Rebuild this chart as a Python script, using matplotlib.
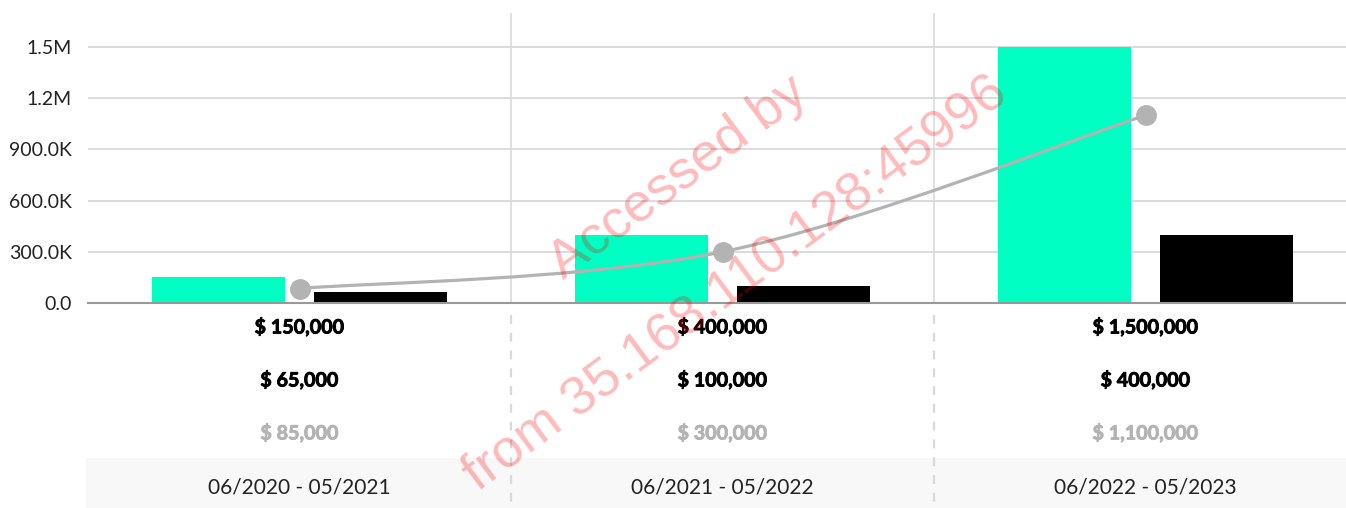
import matplotlib.pyplot as plt
import numpy as np
from matplotlib.path import Path
from matplotlib.patches import PathPatch, Rectangle
import matplotlib.transforms as mtransforms
import matplotlib.patheffects as pe

plt.rcParams['font.family'] = ['Lato', 'DejaVu Sans']

# data
periods = ["06/2020 - 05/2021", "06/2021 - 05/2022", "06/2022 - 05/2023"]
revenue = [150000, 400000, 1500000]
costs = [65000, 100000, 400000]
profit = [85000, 300000, 1100000]
yticks = [0, 300000, 600000, 900000, 1200000, 1500000]
ytick_labels = ["0.0", "300.0K", "600.0K", "900.0K", "1.2M", "1.5M"]

GREEN = "#00ffc2"
GREY = "#b3b3b3"
W, H = 1346, 508

fig = plt.figure(figsize=(W / 100, H / 100), dpi=100)
ax = fig.add_axes([88 / W, (H - 303) / H, 1 - 88 / W, 290 / H])

x = np.arange(len(periods))
bw = 0.314
off = 0.191
ax.bar(x - off, revenue, bw, color=GREEN, zorder=2)
ax.bar(x + off, costs, bw, color="black", zorder=2)

# smooth line through the profit points (catmull-rom -> bezier)
pts = np.column_stack([x, profit]).astype(float)
verts = [tuple(pts[0])]
codes = [Path.MOVETO]
n = len(pts)
for i in range(n - 1):
    p0 = pts[max(i - 1, 0)]
    p1 = pts[i]
    p2 = pts[i + 1]
    p3 = pts[min(i + 2, n - 1)]
    c1 = p1 + (p2 - p0) / 6
    c2 = p2 - (p3 - p1) / 6
    verts += [tuple(c1), tuple(c2), tuple(p2)]
    codes += [Path.CURVE4] * 3
ax.add_patch(PathPatch(Path(verts, codes), facecolor="none", edgecolor=GREY,
                       lw=2.3, zorder=3))
ax.plot(x, profit, "o", color=GREY, ms=14, zorder=4)

ax.set_xlim(-0.5, -0.5 + (W - 88) / 423)
ax.set_ylim(0, 1700000)
ax.set_yticks(yticks)
ax.set_yticklabels(ytick_labels)
ax.set_xticks([])
ax.tick_params(axis="y", length=0, pad=11.5, labelsize=14, labelcolor="#222222")
ax.grid(axis="y", color="#d9d9d9", lw=1.3, zorder=0)
for xv in [0.5, 1.5]:
    ax.axvline(xv, color="#dddddd", lw=1.3, zorder=0)
for s in ["top", "right", "left"]:
    ax.spines[s].set_visible(False)
ax.spines["bottom"].set_color("#999999")
ax.spines["bottom"].set_linewidth(1.5)

# table below the chart
tr = mtransforms.blended_transform_factory(ax.transData, fig.transFigure)
x0 = ax.get_xlim()[0] - 2 / 423
ax.add_patch(Rectangle((x0, 0), ax.get_xlim()[1] - x0, 50 / H, transform=tr,
                       facecolor="#f8f8f8", edgecolor="none", zorder=0, clip_on=False))
rows = [(revenue, "black", 327), (costs, "black", 380), (profit, GREY, 433)]
for vals, col, ypix in rows:
    for i in range(len(periods)):
        ax.text(x[i], (H - ypix) / H, f"$ {vals[i]:,}", transform=tr, ha="center", va="center",
                fontsize=14.2, fontweight="bold", color=col, clip_on=False,
                path_effects=[pe.withStroke(linewidth=0.6, foreground=col)])
for i in range(len(periods)):
    ax.text(x[i], (H - 488) / H, periods[i], transform=tr, ha="center", va="center",
            fontsize=15, color="#222222", clip_on=False, zorder=5)
for xv in [0.5, 1.5]:
    ax.plot([xv, xv], [(H - 315) / H, 0], transform=tr, color="#d9d9d9", lw=1.6,
            ls=(0, (4, 4)), clip_on=False, zorder=5)

# watermark
fig.text(678 / W, (H - 178) / H, "Accessed by", rotation=36.5, fontsize=39,
         family="Liberation Sans", color=(1, 0, 0, 0.27), ha="center", va="center")
fig.text(735 / W, (H - 284) / H, "from 35.168.110.128:45996", rotation=36.5, fontsize=39,
         family="Liberation Sans", color=(1, 0, 0, 0.27), ha="center", va="center")

fig.savefig("out.png", dpi=100)
